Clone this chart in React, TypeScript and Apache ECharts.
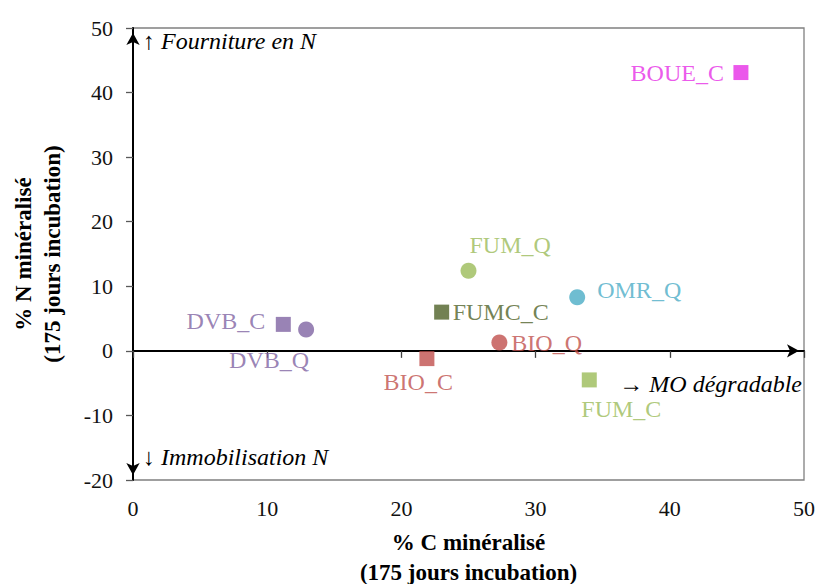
import React, { useEffect, useRef } from "react";
import * as echarts from "echarts";

// ---- data ----
const sampleNames = ["BOUE_C", "FUM_Q", "OMR_Q", "FUMC_C", "BIO_Q", "BIO_C", "FUM_C", "DVB_C", "DVB_Q"];
const cMineralise = [45.3, 25.0, 33.1, 23.0, 27.3, 21.9, 34.0, 11.2, 12.9];
const nMineralise = [43.1, 12.4, 8.3, 6.0, 1.3, -1.2, -4.5, 4.1, 3.3];
const markerShapes = ["square", "circle", "circle", "square", "circle", "square", "square", "square", "circle"];
const xTicks = [0, 10, 20, 30, 40, 50];
const yTicks = [-20, -10, 0, 10, 20, 30, 40, 50];
const xTitle = "% C minéralisé\n(175 jours incubation)";
const yTitle = "% N minéralisé\n(175 jours incubation)";
const annotations = ["↑ Fourniture en N", "↓ Immobilisation N", "→ MO dégradable"];

// ---- styles ----
const sampleColors: Record<string, string> = {
  BOUE_C: "#E62EE6",
  FUM_Q: "#9BBB59",
  OMR_Q: "#4BACC6",
  FUMC_C: "#4F6228",
  BIO_Q: "#C0504D",
  BIO_C: "#C0504D",
  FUM_C: "#9BBB59",
  DVB_C: "#8064A2",
  DVB_Q: "#8064A2",
};
// [align, dx, dy] of the label anchor relative to marker centre (pixels)
const labelPlacement: Record<string, [string, number, number]> = {
  BOUE_C: ["right", -17, 0],
  FUM_Q: ["left", 1, -26],
  OMR_Q: ["left", 20, -7],
  FUMC_C: ["left", 11, 0],
  BIO_Q: ["left", 12, 1],
  BIO_C: ["right", 26, 23],
  FUM_C: ["left", -8, 29],
  DVB_C: ["right", -18, -3],
  DVB_Q: ["right", 3, 30],
};

const FONT = "'Liberation Serif', 'Times New Roman', serif";

export default function App() {
  const ref = useRef<HTMLDivElement>(null);
  useEffect(() => {
    if (!ref.current) return;
    const chart = echarts.init(ref.current, undefined, { renderer: "svg" });
    const data = sampleNames.map((name, i) => {
      const isSquare = markerShapes[i] === "square";
      return {
        name,
        value: [cMineralise[i], nMineralise[i]],
        symbol: isSquare ? "rect" : "circle",
        symbolSize: isSquare ? 15 : 16,
        itemStyle: { color: sampleColors[name] },
        label: {
          show: true,
          formatter: name,
          position: "inside",
          color: sampleColors[name],
          fontFamily: FONT,
          fontSize: 24,
        },
      };
    });
    const option: any = {
      animation: false,
      backgroundColor: "#ffffff",
      grid: {
        left: 133,
        right: 12,
        top: 28,
        bottom: 104,
        containLabel: false,
        outerBoundsMode: "none",
        show: true,
        borderColor: "#808080",
        borderWidth: 1.3,
        backgroundColor: "transparent",
      },
      xAxis: [
        {
          type: "value",
          min: xTicks[0],
          max: xTicks[xTicks.length - 1],
          interval: 10,
          position: "bottom",
          axisLine: { show: false, onZero: false },
          axisTick: { show: false },
          splitLine: { show: false },
          axisLabel: { color: "#111", fontFamily: FONT, fontSize: 22, margin: 17 },
          name: xTitle,
          nameLocation: "middle",
          nameGap: 47,
          nameTextStyle: { color: "#000", fontFamily: FONT, fontSize: 23, fontWeight: "bold", lineHeight: 30 },
        },
        {
          type: "value",
          min: xTicks[0],
          max: xTicks[xTicks.length - 1],
          interval: 10,
          position: "top",
          axisLine: {
            show: true,
            onZero: true,
            onZeroAxisIndex: 0,
            lineStyle: { color: "#000", width: 2 },
            symbol: ["none", "arrow"],
            symbolSize: [10, 12],
            symbolOffset: [0, -5],
          },
          axisTick: { show: true, inside: true, length: 7, lineStyle: { color: "#404040", width: 1.3 } },
          axisLabel: { show: false },
          splitLine: { show: false },
        },
      ],
      yAxis: {
        type: "value",
        min: yTicks[0],
        max: yTicks[yTicks.length - 1],
        interval: 10,
        axisLine: {
          show: true,
          onZero: false,
          lineStyle: { color: "#000", width: 2 },
          symbol: ["arrow", "arrow"],
          symbolSize: [10, 12],
          symbolOffset: [5, -5],
        },
        axisTick: { show: true, length: 7, lineStyle: { color: "#595959", width: 1.3 } },
        splitLine: { show: false },
        axisLabel: { color: "#111", fontFamily: FONT, fontSize: 22, margin: 20 },
        name: yTitle,
        nameLocation: "middle",
        nameGap: 66,
        nameTextStyle: { color: "#000", fontFamily: FONT, fontSize: 23, fontWeight: "bold", lineHeight: 29 },
      },
      series: [
        {
          type: "scatter",
          xAxisIndex: 0,
          yAxisIndex: 0,
          data,
          labelLayout: (params: any) => {
            const name = sampleNames[params.dataIndex];
            const [align, dx, dy] = labelPlacement[name];
            const r = params.rect;
            return {
              x: r.x + r.width / 2 + dx,
              y: r.y + r.height / 2 + dy,
              align,
              verticalAlign: "middle",
              hideOverlap: false,
            };
          },
        },
      ],
      graphic: [
        {
          type: "text",
          left: 143,
          top: 29,
          style: { text: annotations[0], font: `italic 24px ${FONT}`, fill: "#000" },
        },
        {
          type: "text",
          left: 143,
          top: 445,
          style: { text: annotations[1], font: `italic 24px ${FONT}`, fill: "#000" },
        },
        {
          type: "text",
          right: 14,
          top: 372,
          style: { text: annotations[2], font: `italic 24px ${FONT}`, fill: "#000" },
        },
      ],
    };
    chart.setOption(option);
    return () => chart.dispose();
  }, []);
  return <div ref={ref} style={{ position: "fixed", left: 0, top: 0, width: 816, height: 584 }} />;
}
